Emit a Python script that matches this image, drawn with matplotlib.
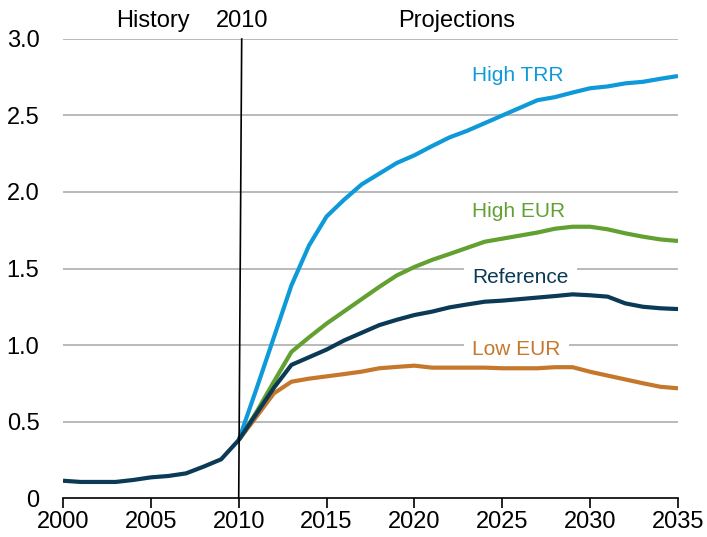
import matplotlib
matplotlib.use("Agg")
import matplotlib.pyplot as plt

plt.rcParams["font.family"] = ["Liberation Sans", "DejaVu Sans"]

hist_years = list(range(2000, 2011))
hist_vals = [0.113, 0.105, 0.105, 0.105, 0.118, 0.135, 0.144, 0.161, 0.205, 0.253, 0.379]

proj_years = list(range(2010, 2036))
high_trr = [0.379, 0.71, 1.05, 1.39, 1.65, 1.84, 1.95, 2.05, 2.12, 2.19, 2.24, 2.30, 2.357,
            2.40, 2.45, 2.50, 2.55, 2.60, 2.62, 2.65, 2.678, 2.69, 2.71, 2.72, 2.74, 2.758]
high_eur = [0.379, 0.56, 0.76, 0.955, 1.05, 1.14, 1.22, 1.30, 1.38, 1.455, 1.51, 1.556, 1.595,
            1.635, 1.675, 1.695, 1.715, 1.735, 1.76, 1.773, 1.773, 1.756, 1.73, 1.708, 1.69, 1.68]
reference = [0.379, 0.55, 0.72, 0.87, 0.92, 0.97, 1.03, 1.08, 1.13, 1.165, 1.196, 1.218, 1.246,
             1.265, 1.283, 1.29, 1.30, 1.31, 1.32, 1.331, 1.325, 1.316, 1.272, 1.25, 1.24, 1.235]
low_eur = [0.379, 0.53, 0.684, 0.76, 0.78, 0.795, 0.81, 0.826, 0.848, 0.857, 0.865, 0.852, 0.852,
           0.852, 0.852, 0.848, 0.848, 0.848, 0.855, 0.855, 0.825, 0.80, 0.775, 0.75, 0.727, 0.717]

series = [
    ("Low EUR", low_eur, "#c5782c", 0.97),
    ("High EUR", high_eur, "#62a032", 1.87),
    ("High TRR", high_trr, "#0e9ad8", 2.76),
    ("Reference", reference, "#0a3a55", 1.44),
]

x_ticks = [2000, 2005, 2010, 2015, 2020, 2025, 2030, 2035]
y_ticks = [0, 0.5, 1.0, 1.5, 2.0, 2.5, 3.0]
y_labels = ["0", "0.5", "1.0", "1.5", "2.0", "2.5", "3.0"]

fig = plt.figure(figsize=(7.07, 5.37), dpi=100)
ax = fig.add_axes([0.0891, 0.0726, 0.8699, 0.8548])

ax.set_xlim(2000, 2035)
ax.set_ylim(0, 3.0)

for y in y_ticks[1:]:
    ax.axhline(y, color="#b4b4b4", lw=1.3, zorder=1)

for name, vals, color, label_y in series:
    ax.plot(proj_years, vals, color=color, lw=3, zorder=3, solid_capstyle="butt")
    ax.text(2023.3, label_y, name, color=color, fontsize=15, va="center", ha="left",
            zorder=2, bbox=dict(facecolor="white", edgecolor="none", pad=6))

ax.plot(hist_years, hist_vals, color="#0a3a55", lw=3, zorder=4, solid_capstyle="butt")

# history / projections divider
ax.plot([2010.17, 2010.0], [3.0, 0.0], color="black", lw=1.2, zorder=5, clip_on=False)

ax.text(2005.1, 3.12, "History", fontsize=17, ha="center", va="center", clip_on=False)
ax.text(2010.2, 3.12, "2010", fontsize=17, ha="center", va="center", clip_on=False)
ax.text(2022.4, 3.12, "Projections", fontsize=17, ha="center", va="center", clip_on=False)

ax.set_xticks(x_ticks)
ax.set_xticklabels([str(x) for x in x_ticks], fontsize=17)
ax.set_yticks(y_ticks)
ax.set_yticklabels(y_labels, fontsize=17)
ax.tick_params(axis="y", length=0, pad=17)
ax.tick_params(axis="x", direction="out", length=7, width=1.2, pad=2)

for side in ["top", "right", "left"]:
    ax.spines[side].set_visible(False)
ax.spines["bottom"].set_linewidth(1.2)
ax.spines["bottom"].set_zorder(6)

fig.savefig("out.png", dpi=100)
